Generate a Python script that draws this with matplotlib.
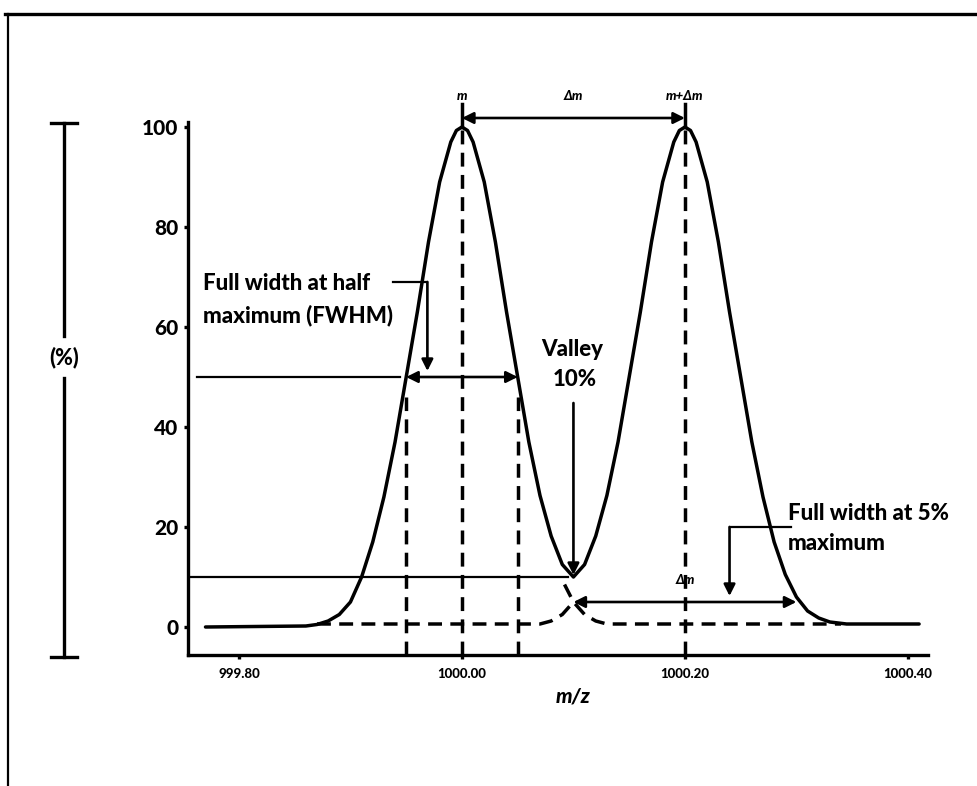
import matplotlib
matplotlib.use("Agg")
import matplotlib.pyplot as plt
from matplotlib.lines import Line2D

plt.rcParams["font.family"] = ["Lato", "DejaVu Sans"]
plt.rcParams["lines.scale_dashes"] = False

# ---- data -------------------------------------------------------------
# summed profile of the two neighbouring peaks (m/z, relative intensity %)
envelope_mz = [999.770, 999.860, 999.870, 999.880, 999.890, 999.900, 999.910,
               999.920, 999.930, 999.940, 999.950, 999.960, 999.970, 999.980,
               999.990, 999.995, 1000.000, 1000.005, 1000.010, 1000.020,
               1000.030, 1000.040, 1000.050, 1000.060, 1000.070, 1000.080,
               1000.090, 1000.100, 1000.110, 1000.120, 1000.130, 1000.140,
               1000.150, 1000.160, 1000.170, 1000.180, 1000.190, 1000.195,
               1000.200, 1000.205, 1000.210, 1000.220, 1000.230, 1000.240,
               1000.250, 1000.260, 1000.270, 1000.280, 1000.290, 1000.300,
               1000.310, 1000.320, 1000.330, 1000.345, 1000.360, 1000.410]
envelope_pct = [0.0, 0.2, 0.5, 1.2, 2.5, 5.0, 10.0,
                17.0, 26.0, 37.0, 50.0, 63.0, 77.0, 89.0,
                97.0, 99.3, 100.0, 99.3, 97.0, 89.0,
                77.0, 63.0, 50.0, 37.0, 26.3, 18.2,
                12.5, 10.0, 12.5, 18.2, 26.3, 37.0,
                50.0, 63.0, 77.0, 89.0, 97.0, 99.3,
                100.0, 99.3, 97.0, 89.0, 77.0, 63.0,
                50.0, 37.0, 26.0, 17.0, 10.5, 6.0,
                3.2, 1.8, 1.0, 0.6, 0.6, 0.6]

# individual peak tails hidden under the neighbour
tail1_mz = [1000.092, 1000.100, 1000.110, 1000.120, 1000.130, 1000.150, 1000.340]
tail1_pct = [8.5, 5.0, 2.5, 1.2, 0.6, 0.6, 0.6]
tail2_mz = [999.870, 1000.050, 1000.070, 1000.080, 1000.090, 1000.100]
tail2_pct = [0.6, 0.6, 0.6, 1.2, 2.5, 5.0]

peak_mz = [1000.00, 1000.20]
fwhm_edges = [999.95, 1000.05]
half_max = 50
valley_mz = 1000.10
valley_pct = 10
w5_edges = [1000.10, 1000.30]
w5_level = 5

yticks = [0, 20, 40, 60, 80, 100]
xticks = [999.80, 1000.00, 1000.20, 1000.40]
xtick_labels = ["999.80", "1000.00", "1000.20", "1000.40"]

# ---- figure -----------------------------------------------------------
W, H = 977, 786
fig = plt.figure(figsize=(W / 100, H / 100), dpi=100)
HEAVY = "black"


def fx(x):
    return x / W


def fy(y):
    return 1 - y / H


# outer frame (top and left edges)
fig.add_artist(Line2D([fx(5), fx(977)], [fy(14), fy(14)], color="black", lw=2.4))
fig.add_artist(Line2D([fx(8), fx(8)], [fy(14), fy(786)], color="black", lw=1.6))

# vertical intensity scale bar with "(%)" label
bx = 64
fig.add_artist(Line2D([fx(bx), fx(bx)], [fy(123), fy(336)], color="black", lw=2.4))
fig.add_artist(Line2D([fx(bx), fx(bx)], [fy(378), fy(657)], color="black", lw=2.4))
fig.add_artist(Line2D([fx(bx - 13), fx(bx + 13)], [fy(123), fy(123)], color="black", lw=2.4))
fig.add_artist(Line2D([fx(bx - 13), fx(bx + 13)], [fy(657), fy(657)], color="black", lw=2.4))
fig.text(fx(bx), fy(357), "(%)", ha="center", va="center", fontsize=15.5, fontweight=HEAVY)

ax = fig.add_axes([fx(188), fy(655), (928 - 188) / W, (655 - 122) / H])
ax.set_xlim(999.7543, 1000.418)
ax.set_ylim(-5.6, 101)
for s in ("top", "right"):
    ax.spines[s].set_visible(False)
for s in ("left", "bottom"):
    ax.spines[s].set_linewidth(2.4)

ax.set_yticks(yticks)
ax.set_yticklabels([str(v) for v in yticks], fontsize=15, fontweight=HEAVY)
ax.set_xticks(xticks)
ax.set_xticklabels(xtick_labels, fontsize=9.5, fontweight=HEAVY)
ax.tick_params(axis="both", direction="out", length=3, width=2.4)
ax.tick_params(axis="y", pad=4)
ax.tick_params(axis="x", pad=6)
ax.set_xlabel("m/z", fontsize=15, fontweight=HEAVY, fontstyle="italic")
ax.xaxis.set_label_coords((573 - 188) / (928 - 188), -0.06)

dash = (0, (10, 6))
lw_curve = 2.5
lw_thin = 1.6

# peaks
ax.plot(envelope_mz, envelope_pct, color="black", lw=lw_curve, solid_capstyle="round")
ax.plot(tail1_mz, tail1_pct, color="black", lw=lw_curve, ls=dash)
ax.plot(tail2_mz, tail2_pct, color="black", lw=lw_curve, ls=dash)

# dashed guides at the peak centres and half-maximum edges
ybot = ax.get_ylim()[0]
for m in peak_mz:
    ax.plot([m, m], [ybot, 100], color="black", lw=lw_curve, ls=dash, clip_on=False)
    ax.plot([m, m], [100, 104.5], color="black", lw=lw_curve, clip_on=False)
for m in fwhm_edges:
    ax.plot([m, m], [ybot, 46], color="black", lw=lw_curve, ls=dash)

# horizontal reference lines at 50 % and 10 %
ax.plot([999.762, 999.944], [half_max, half_max], color="black", lw=lw_thin)
ax.plot([999.7543, 1000.095], [valley_pct, valley_pct], color="black", lw=lw_thin)

arrow_kw = dict(color="black", lw=1.9, shrinkA=0, shrinkB=0, mutation_scale=17)

# Δm between the two peak tops
ax.annotate("", xy=(peak_mz[1], 101.8), xytext=(peak_mz[0], 101.8),
            arrowprops=dict(arrowstyle="<|-|>", **arrow_kw), annotation_clip=False)
top_y = 106.2
small = dict(fontsize=9.5, fontweight=HEAVY, fontstyle="italic", ha="center", va="center")
ax.text(peak_mz[0], top_y, "m", clip_on=False, **small)
ax.text((peak_mz[0] + peak_mz[1]) / 2, top_y, "Δm", clip_on=False, **small)
ax.text(peak_mz[1], top_y, "m+Δm", clip_on=False, **small)

big = dict(fontsize=16, fontweight=HEAVY, va="center")

# FWHM
ax.annotate("", xy=(fwhm_edges[1], half_max), xytext=(fwhm_edges[0], half_max),
            arrowprops=dict(arrowstyle="<|-|>", **arrow_kw))
ax.plot([999.938, 999.969], [69, 69], color="black", lw=lw_thin)
ax.annotate("", xy=(999.969, 51.2), xytext=(999.969, 69),
            arrowprops=dict(arrowstyle="-|>", **arrow_kw))
ax.text(999.7677, 68.8, "Full width at half", ha="left", **big)
ax.text(999.7677, 62.4, "maximum (FWHM)", ha="left", **big)

# valley
ax.annotate("", xy=(valley_mz, valley_pct + 0.4), xytext=(valley_mz, 44.8),
            arrowprops=dict(arrowstyle="-|>", **arrow_kw))
ax.text(valley_mz - 0.001, 55.5, "Valley", ha="center", **big)
ax.text(valley_mz + 0.001, 49.5, "10%", ha="center", **big)

# full width at 5 % maximum
ax.annotate("", xy=(w5_edges[1], w5_level), xytext=(w5_edges[0], w5_level),
            arrowprops=dict(arrowstyle="<|-|>", **arrow_kw))
ax.plot([1000.24, 1000.295], [20, 20], color="black", lw=lw_thin)
ax.annotate("", xy=(1000.24, 6.2), xytext=(1000.24, 20),
            arrowprops=dict(arrowstyle="-|>", **arrow_kw))
ax.text(peak_mz[1], 9.5, "Δm", **small)
ax.text(1000.292, 22.8, "Full width at 5%", ha="left", clip_on=False, **big)
ax.text(1000.292, 16.8, "maximum", ha="left", clip_on=False, **big)

fig.savefig("out.png", dpi=100, facecolor="white")
